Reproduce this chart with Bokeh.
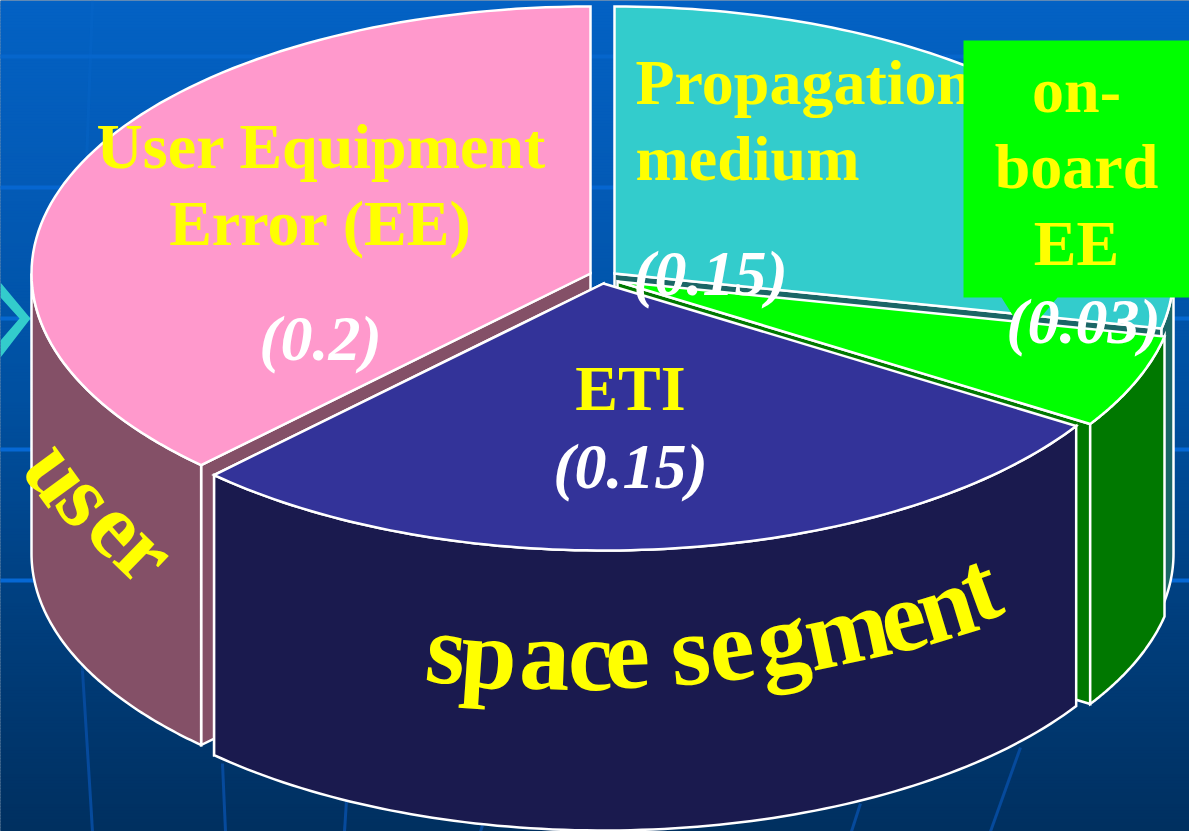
import numpy as np
from bokeh.core.properties import value
from bokeh.embed import file_html
from bokeh.models import ColumnDataSource, Range1d
from bokeh.plotting import figure
from bokeh.resources import INLINE

# Error budget shares, listed clockwise from twelve o'clock
slice_names = ["Propagation medium", "on-board EE", "ETI", "User Equipment Error (EE)"]
slice_values = [0.15, 0.03, 0.15, 0.2]
value_labels = ["(0.15)", "(0.03)", "(0.15)", "(0.2)"]

WIDTH, HEIGHT = 1189, 831
RX, RY, DEPTH = 559, 267, 280  # pie ellipse radii and extrusion depth
SERIF = value("Liberation Serif")
YELLOW, WHITE = "#FFFF00", "#FFFFFF"
BASELINE_SHIFT = 0.35  # the svg text sits this many ems under its anchor

# Exploded apex, top colour and wall colour of each slice
apex = [(614, 273), (617, 281), (603, 283), (590, 273)]
top_colors = ["#33CCCC", "#00FF00", "#333399", "#FF99CC"]
wall_colors = ["#1B6666", "#007800", "#1A1A4E", "#845067"]

p = figure(width=WIDTH, height=HEIGHT, output_backend="svg", toolbar_location=None,
           x_range=Range1d(0, WIDTH), y_range=Range1d(HEIGHT, 0),
           min_border=0, outline_line_color=None)
p.axis.visible = False
p.grid.visible = False
p.background_fill_color = "#003060"
p.border_fill_color = None

# Slide background: vertical blue gradient
stops_y = [0, 200, 400, 600, 831]
stops_rgb = np.array([[4, 98, 196], [3, 90, 181], [0, 80, 160], [0, 64, 128], [0, 48, 96]])
band_top = np.arange(0, HEIGHT, 3)
band_rgb = np.column_stack([np.interp(band_top, stops_y, stops_rgb[:, i]) for i in range(3)]).astype(int)
band_colors = ["#%02x%02x%02x" % tuple(c) for c in band_rgb]
p.quad(left=-2, right=WIDTH + 2, top=band_top, bottom=band_top + 4, fill_color=band_colors, line_color=None)

# Slide background: faint grid behind the pie
for gy, gc in [(56, "#0666cc"), (187, "#0666d0"), (318, "#0668d0"), (449, "#0668d4"), (580, "#0668d4")]:
    p.line([-2, WIDTH + 2], [gy, gy], line_color=gc, line_width=4)
for xs, ys in [([92, 85], [0, 190]), ([85, 82], [190, 670])]:
    p.line(xs, ys, line_color="#0a66cc", line_width=3, line_alpha=0.35)
for xs, ys in [([82, 92], [670, 831]), ([222, 225], [763, 831]), ([346, 344], [800, 831]),
               ([482, 480], [825, 831]), ([860, 851], [803, 831]), ([1020, 990], [747, 831])]:
    p.line(xs, ys, line_color="#064a9c", line_width=3)

# Bullet chevron at the left edge
p.patch([0, 30, 0, 0, 19, 0], [282, 318, 357, 340, 318, 297], fill_color="#33CCCC", line_color=None)


def rim(cx, cy, a0, a1):
    """Points along the pie's rim between two angles in degrees."""
    angles = np.radians(np.linspace(a0, a1, 90))
    return cx + RX * np.cos(angles), cy - RY * np.sin(angles)


def face(xs, ys, color):
    p.patch(list(xs), list(ys), fill_color=color, line_color=WHITE, line_width=2.5, line_join="miter")


# Slice angles follow from the values
total = sum(slice_values)
sweeps = [v / total * 360 for v in slice_values]
starts = [90 - sum(sweeps[:i]) for i in range(len(sweeps))]
ends = [s - w for s, w in zip(starts, sweeps)]


def draw_slice(i):
    cx, cy = apex[i]
    a0, a1 = starts[i], ends[i]

    # Radial wall along whichever edge comes nearest the viewer
    edge = min((a0, a1), key=lambda a: np.sin(np.radians(a)))
    ex, ey = rim(cx, cy, edge, edge)
    face([cx, ex[0], ex[0], cx], [cy, ey[0], ey[0] + DEPTH, cy + DEPTH], wall_colors[i])

    # Outer wall: only the part of the rim that faces the viewer
    hi, lo = min(a0, 0), max(a1, -180)
    xt, yt = rim(cx, cy, hi, lo)
    face(np.r_[xt, xt[::-1]], np.r_[yt, yt[::-1] + DEPTH], wall_colors[i])

    # Top face
    xr, yr = rim(cx, cy, a0, a1)
    face(np.r_[cx, xr], np.r_[cy, yr], top_colors[i])


for i in (0, 3, 1, 2):
    draw_slice(i)


def label(x, y, text, color=YELLOW, size=64, style="bold", align="center"):
    p.text([x], [y - BASELINE_SHIFT * size], text=[text], text_color=color, text_font=SERIF,
           text_font_size=f"{size}px", text_font_style=style, text_align=align, text_baseline="alphabetic")


label(635, 104, "Propagation", align="left")
label(635, 180, "medium", align="left")
label(710, 295, value_labels[0], WHITE, 64, "bold italic")

# Callout box for the narrow slice
p.patch([963, 1189, 1189, 1057, 1025, 1001, 963], [40, 40, 297, 297, 335, 297, 297],
        fill_color="#00FF00", line_color=None)
label(1076, 112, "on-")
label(1076, 188, "board")
label(1076, 265, "EE")
label(1083, 343, value_labels[1], WHITE, 64, "bold italic")

label(321, 168, "User Equipment")
label(320, 245, "Error (EE)")
label(320, 360, value_labels[3], WHITE, 64, "bold italic")

label(630, 410, "ETI")
label(630, 488, value_labels[2], WHITE, 64, "bold italic")


def curved_word(letters, xs, ys, degrees, size):
    """Set a word letter by letter along a curved baseline."""
    th = np.radians(degrees)
    shift = 0.38 * size
    source = ColumnDataSource(dict(
        ch=list(letters),
        x=np.array(xs) - shift * np.sin(th),
        y=np.array(ys) - shift * np.cos(th),
        angle=th,
    ))
    p.text("x", "y", text="ch", angle="angle", source=source, text_color=YELLOW, text_font=SERIF,
           text_font_size=f"{size}px", text_font_style="bold", text_align="center", text_baseline="alphabetic")


# Lettering that follows the curve of the walls
curved_word("spacesegment",
            [442, 486, 543, 590, 628, 693, 736, 788, 854, 911, 956, 992],
            [687, 692, 693, 694, 692, 688, 684, 676, 666, 654, 641, 622],
            [-6, -4, -2, 0, 2, 5, 8, 10, 12, 14, 17, 20], 101)
curved_word("user", [31, 60, 92, 122], [492, 520, 550, 577], [-54, -52, -48, -44], 92)

open("out.html", "w").write(file_html(p, INLINE))
